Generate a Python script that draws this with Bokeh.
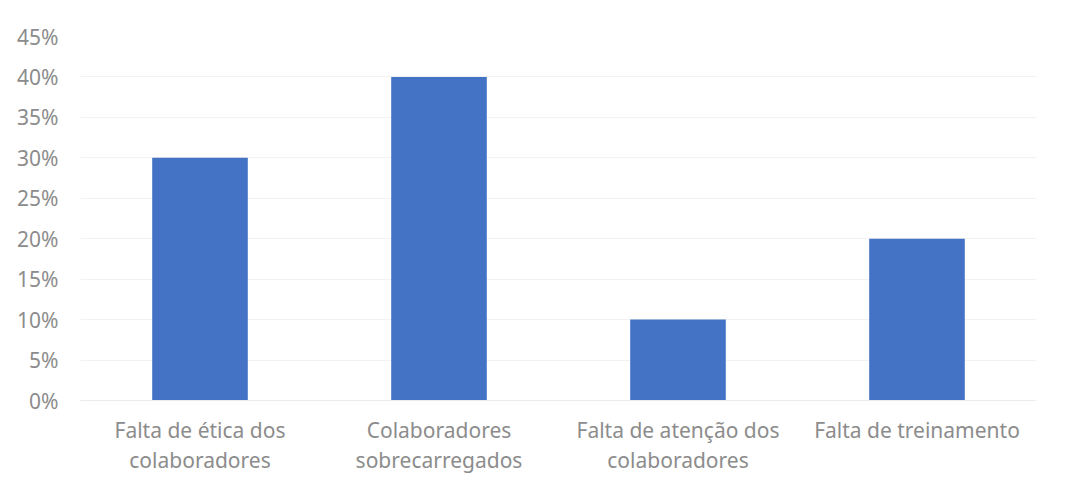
from bokeh.plotting import figure
from bokeh.models import ColumnDataSource, FixedTicker, NumeralTickFormatter, Range1d
from bokeh.embed import file_html
from bokeh.resources import INLINE

categories = ["Falta de ética dos\ncolaboradores", "Colaboradores\nsobrecarregados",
              "Falta de atenção dos\ncolaboradores", "Falta de treinamento"]
values = [0.30, 0.40, 0.10, 0.20]
y_ticks = [0, 0.05, 0.10, 0.15, 0.20, 0.25, 0.30, 0.35, 0.40, 0.45]

source = ColumnDataSource(data=dict(cat=categories, val=values))

p = figure(x_range=categories, y_range=Range1d(0, 0.45), width=1064, height=476,
           output_backend="svg", toolbar_location=None,
           min_border_left=80, min_border_right=28, min_border_top=36, min_border_bottom=76)
p.outline_line_color = None
p.vbar(x="cat", top="val", width=0.4, source=source, color="#4472c4", line_color=None)

p.yaxis.ticker = FixedTicker(ticks=y_ticks)
p.yaxis.formatter = NumeralTickFormatter(format="0%")
font = "Noto Sans"
for ax in (p.xaxis, p.yaxis):
    ax.major_label_text_font = font
    ax.major_label_text_font_size = "21px"
    ax.major_label_text_color = "#8c8c8c"
    ax.major_tick_line_color = None
    ax.minor_tick_line_color = None
p.yaxis.axis_line_color = None
p.xaxis.axis_line_color = "#ebebeb"
p.yaxis.major_label_standoff = 16
p.xaxis.major_label_standoff = 9
p.xaxis.major_label_text_line_height = 1.08
p.xgrid.grid_line_color = None
p.ygrid.grid_line_color = "#f2f2f2"

open("out.html", "w").write(file_html(p, INLINE))
